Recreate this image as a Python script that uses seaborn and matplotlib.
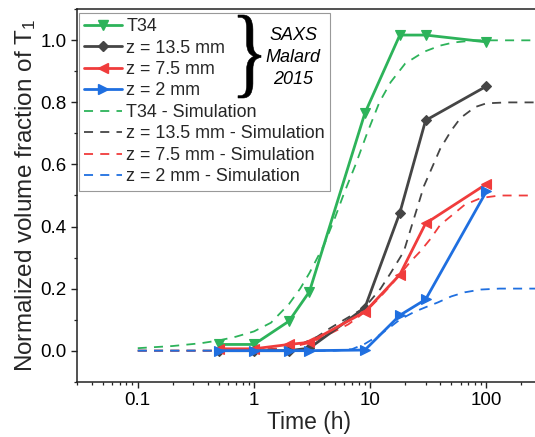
import numpy as np
import pandas as pd
import matplotlib
matplotlib.use("Agg")
import matplotlib.pyplot as plt
import seaborn as sns
from matplotlib.lines import Line2D
from matplotlib.textpath import TextPath
from matplotlib.patches import PathPatch
from matplotlib.font_manager import FontProperties
from matplotlib import transforms
from matplotlib.ticker import LogLocator, FixedLocator, FuncFormatter, MultipleLocator

# ---- measured data (SAXS, Malard 2015) ----
t_exp = [0.5, 1, 2, 3, 9, 18, 30, 100]
y_t34 = [0.02, 0.02, 0.095, 0.19, 0.765, 1.017, 1.017, 0.995]
y_z135 = [0.0, 0.0, 0.0, 0.008, 0.138, 0.444, 0.742, 0.852]
y_z75 = [0.006, 0.006, 0.02, 0.027, 0.125, 0.245, 0.41, 0.537]
y_z2 = [0.0, 0.0, 0.0, 0.0, 0.002, 0.114, 0.165, 0.513]

# ---- simulated curves ----
t_sim_t34 = [0.1, 0.2, 0.35, 0.5, 0.7, 1, 1.4, 2, 2.5, 3, 4, 5, 6, 7.5, 9.4, 12, 15, 20, 29, 40, 52, 80, 150, 300]
y_sim_t34 = [0.008, 0.015, 0.024, 0.033, 0.045, 0.062, 0.09, 0.15, 0.2, 0.25, 0.34, 0.43, 0.51, 0.6, 0.7, 0.8, 0.865, 0.925, 0.963, 0.983, 0.993, 1.0, 1.0, 1.0]

t_sim_z135 = [0.1, 0.5, 1, 1.5, 2, 2.5, 3.5, 4.5, 6, 8.2, 10, 12.3, 15, 19.5, 24, 29, 35, 40, 50, 60, 80, 100, 150, 300]
y_sim_z135 = [0.0, 0.0, 0.002, 0.006, 0.012, 0.02, 0.045, 0.072, 0.1, 0.13, 0.16, 0.2, 0.25, 0.32, 0.43, 0.53, 0.6, 0.65, 0.71, 0.75, 0.785, 0.797, 0.8, 0.8]

t_sim_z75 = [0.1, 0.5, 1, 1.5, 2, 3, 4, 5, 6.5, 8, 10, 12, 15, 18, 22, 27, 33, 40, 52, 65, 90, 130, 300]
y_sim_z75 = [0.0, 0.0, 0.002, 0.005, 0.01, 0.025, 0.045, 0.063, 0.085, 0.11, 0.14, 0.17, 0.21, 0.245, 0.285, 0.32, 0.36, 0.405, 0.44, 0.47, 0.492, 0.5, 0.5]

t_sim_z2 = [0.1, 1, 3, 5, 7, 9, 12, 15, 18, 24, 30, 38, 50, 65, 90, 130, 300]
y_sim_z2 = [0.0, 0.0, 0.0, 0.0, 0.005, 0.022, 0.05, 0.077, 0.1, 0.125, 0.14, 0.155, 0.175, 0.188, 0.197, 0.2, 0.2]

labels_exp = ["T34", "z = 13.5 mm", "z = 7.5 mm", "z = 2 mm"]
labels_sim = [l + " - Simulation" for l in labels_exp]
colors = ["#2DB35A", "#454545", "#F03C3C", "#1F6FE0"]
markers = ["v", "D", "<", ">"]
msizes = [7.5, 5.5, 7.5, 7.5]

sns.set_theme(style="ticks")
plt.rcParams["font.family"] = ["Liberation Sans", "DejaVu Sans"]
plt.rcParams["mathtext.default"] = "regular"

W, H = 535, 437
fig = plt.figure(figsize=(W / 100, H / 100), dpi=100)
ax = fig.add_axes([77 / W, (H - 381.7) / H, 464.8 / W, 372.4 / H])

sims = [(t_sim_t34, y_sim_t34), (t_sim_z135, y_sim_z135), (t_sim_z75, y_sim_z75), (t_sim_z2, y_sim_z2)]
exps = [y_t34, y_z135, y_z75, y_z2]

# simulated curves (dashed) below the measurements
for (ts, ys), c in zip(sims, colors):
    sns.lineplot(x=ts, y=ys, ax=ax, color=c, lw=1.3, linestyle=(0, (5, 4)),
                 estimator=None, sort=False, zorder=2)

# measurements drawn back to front
for i in [1, 2, 3, 0]:
    sns.lineplot(x=t_exp, y=exps[i], ax=ax, color=colors[i], lw=2.0,
                 marker=markers[i], markersize=msizes[i], markeredgecolor=colors[i],
                 markeredgewidth=0.8, estimator=None, sort=False, zorder=3 + i * 0.1)

ax.set_xscale("log")
ax.set_xlim(0.03, 300)
ax.set_ylim(-0.1, 1.1)

ax.xaxis.set_major_locator(FixedLocator([0.1, 1, 10, 100]))
ax.xaxis.set_major_formatter(FuncFormatter(lambda v, p: {0.1: "0.1", 1: "1", 10: "10", 100: "100"}.get(round(v, 3), "")))
ax.xaxis.set_minor_locator(LogLocator(base=10, subs=np.arange(2, 10), numticks=20))
ax.yaxis.set_major_locator(FixedLocator([0.0, 0.2, 0.4, 0.6, 0.8, 1.0]))
ax.yaxis.set_minor_locator(MultipleLocator(0.1))
ax.yaxis.set_major_formatter(FuncFormatter(lambda v, p: f"{v:.1f}"))

for s in ax.spines.values():
    s.set_linewidth(1.1)
    s.set_color("#222222")
ax.tick_params(axis="both", which="major", length=4.5, width=1.0, labelsize=13.5,
               colors="#222222", labelcolor="black", pad=3)
ax.tick_params(axis="both", which="minor", length=2.5, width=0.9, colors="#222222")

ax.set_xlabel("Time (h)", fontsize=16.5, labelpad=1)
ax.set_ylabel("Normalized volume fraction of T$_1$", fontsize=17.5, labelpad=2)

handles = []
for c, m, ms in zip(colors, markers, msizes):
    handles.append(Line2D([], [], color=c, lw=2.0, marker=m, markersize=ms * 0.95, markeredgecolor=c))
for c in colors:
    handles.append(Line2D([], [], color=c, lw=1.3, linestyle=(0, (5, 4))))
leg = ax.legend(handles, labels_exp + labels_sim, loc="upper left",
                bbox_to_anchor=(0.004, 0.991), borderaxespad=0, fontsize=12.9,
                handlelength=2.1, handletextpad=0.25, labelspacing=0.25,
                borderpad=0.3, frameon=True, fancybox=False, framealpha=1,
                edgecolor="#999999")
leg.get_frame().set_linewidth(0.8)

# curly brace grouping the measured series
prop = FontProperties(family="Liberation Serif")
tp = TextPath((0, 0), "}", size=1, prop=prop)
ext = tp.get_extents()
bx0, bx1, by0, by1 = 238, 261, 15, 98
tr = (transforms.Affine2D()
      .translate(-ext.x0, -ext.y0)
      .scale((bx1 - bx0) / ext.width, (by1 - by0) / ext.height)
      .translate(bx0, H - by1)
      .scale(1 / 100.0)) + fig.dpi_scale_trans
fig.patches.append(PathPatch(tp, transform=tr, facecolor="black", edgecolor="black",
                             linewidth=0.4, zorder=10))

for txt, yy in zip(["SAXS", "Malard", "2015"], [35, 57.5, 80]):
    fig.text(293 / W, 1 - yy / H, txt, ha="center", va="center", fontsize=13,
             style="italic", color="black", zorder=10)

fig.savefig("out.png", dpi=100)
